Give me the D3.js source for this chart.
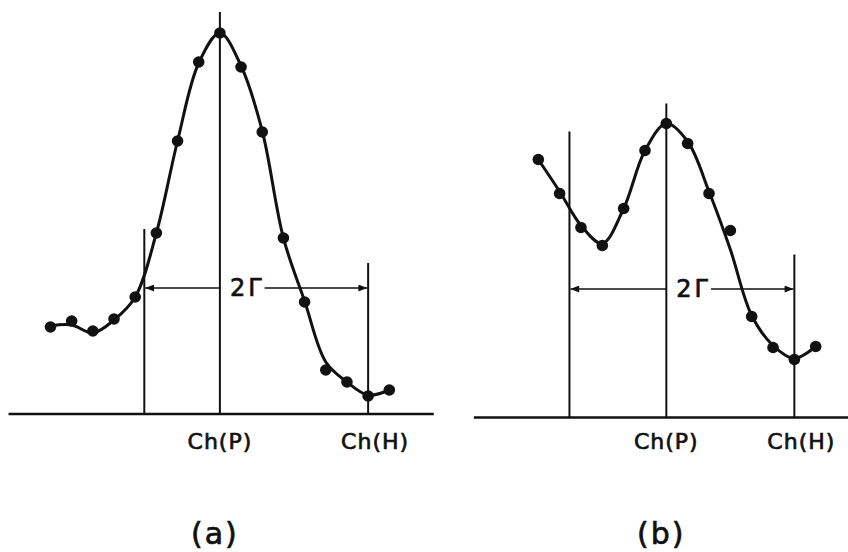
<!DOCTYPE html>
<html>
<head>
<meta charset="utf-8">
<script src="https://cdn.jsdelivr.net/npm/d3@7"></script>
<style>
  html, body { margin: 0; padding: 0; background: #fff; }
  svg { display: block; }
  text { font-family: "DejaVu Sans", sans-serif; fill: #111; stroke: #111; stroke-width: 0.7px; }
</style>
</head>
<body>
<div id="chart"></div>
<script>
// ---------------------------------------------------------------------------
// Two line-shape spectra, measured counts per channel with a smooth fit
// ---------------------------------------------------------------------------

// panel (a)
const channelsA = [1, 2, 3, 4, 5, 6, 7, 8, 9, 10, 11, 12, 13, 14, 15, 16, 17];
const countsA   = [87, 93, 83, 95, 117, 181, 273, 352, 381, 347, 282, 176, 112, 44, 32, 18, 24];
const fitA      = [88, 89, 81, 94, 117, 181, 273, 351, 381, 348, 283, 176, 113, 52, 32, 19, 24];
const markersA  = { chP: 9, chH: 16, halfLeft: 5.43, arrowLevel: 126,
                    topLeft: 185, topP: 402, topH: 151, axis: [-0.98, 19.1] };

// panel (b)
const channelsB = [1, 2, 3, 4, 5, 6, 7, 8, 9, 10, 11, 12, 13, 14];
const countsB   = [258, 224, 190, 172, 209, 267, 294, 274, 224, 187, 101, 70, 58, 71];
const fitB      = [258, 226, 192, 174, 209, 267, 294, 276, 226, 168, 102, 72, 59, 71];
const markersB  = { chP: 7, chH: 13, halfLeft: 2.46, arrowLevel: 128.5,
                    topLeft: 286, topP: 314, topH: 163, axis: [-2.02, 16] };

const width = 848, height = 552;

const svg = d3.select('#chart').append('svg')
    .attr('width', width).attr('height', height);

const defs = svg.append('defs');
defs.append('marker')
    .attr('id', 'arrow')
    .attr('viewBox', '0 0 10 8')
    .attr('refX', 10).attr('refY', 4)
    .attr('markerWidth', 11).attr('markerHeight', 7)
    .attr('markerUnits', 'userSpaceOnUse')
    .attr('orient', 'auto-start-reverse')
    .append('path')
    .attr('d', 'M0,0L10,4L0,8Z')
    .attr('fill', '#111');

function drawPanel(cfg) {
    const { channels, counts, fit, m, xRange, base, label } = cfg;

    const x = d3.scaleLinear().domain([channels[0], channels[channels.length - 1]]).range(xRange);
    const y = d3.scaleLinear().domain([0, 400]).range([base, base - 400]);

    const g = svg.append('g');

    // Baseline
    g.append('line')
        .attr('x1', x(m.axis[0])).attr('x2', x(m.axis[1]))
        .attr('y1', y(0)).attr('y2', y(0))
        .attr('stroke', '#111').attr('stroke-width', 2.4);

    // Vertical markers: half-width edge, Ch(P), Ch(H)
    [[m.halfLeft, m.topLeft], [m.chP, m.topP], [m.chH, m.topH]].forEach(([c, top]) => {
        g.append('line')
            .attr('x1', x(c)).attr('x2', x(c))
            .attr('y1', y(0)).attr('y2', y(top))
            .attr('stroke', '#111').attr('stroke-width', 2);
    });

    // 2Γ width arrow, broken for the label
    const ay = y(m.arrowLevel);
    g.append('line')
        .attr('x1', x(m.chP)).attr('x2', x(m.halfLeft) + 1)
        .attr('y1', ay).attr('y2', ay)
        .attr('stroke', '#111').attr('stroke-width', 1.5)
        .attr('marker-end', 'url(#arrow)');

    const gamma = g.append('text')
        .attr('x', x(m.chP) + 10)
        .attr('y', ay + 8)
        .style('font-size', '24px')
        .style('letter-spacing', '3px')
        .text('2Γ');
    const tw = gamma.node().getComputedTextLength();

    g.append('line')
        .attr('x1', x(m.chP) + 10 + tw).attr('x2', x(m.chH) - 1)
        .attr('y1', ay).attr('y2', ay)
        .attr('stroke', '#111').attr('stroke-width', 1.5)
        .attr('marker-end', 'url(#arrow)');

    // Fitted curve
    const line = d3.line()
        .x((d, i) => x(channels[i]))
        .y(d => y(d))
        .curve(d3.curveCatmullRom.alpha(0.5));

    g.append('path')
        .datum(fit)
        .attr('d', line)
        .attr('fill', 'none')
        .attr('stroke', '#111')
        .attr('stroke-width', 3);

    // Measured points
    g.selectAll('.pt')
        .data(counts)
        .join('circle')
        .attr('cx', (d, i) => x(channels[i]))
        .attr('cy', d => y(d))
        .attr('r', 5.8)
        .attr('fill', '#111');

    // Channel labels
    g.append('text')
        .attr('x', x(m.chP)).attr('y', 449)
        .attr('text-anchor', 'middle')
        .style('font-size', '22px')
        .style('letter-spacing', '1px')
        .text('Ch(P)');

    g.append('text')
        .attr('x', x(m.chH) + 7).attr('y', 449)
        .attr('text-anchor', 'middle')
        .style('font-size', '22px')
        .style('letter-spacing', '1px')
        .text('Ch(H)');

    // Panel label
    g.append('text')
        .attr('x', x(m.chP) - 5).attr('y', 544)
        .attr('text-anchor', 'middle')
        .style('font-size', '30px')
        .style('letter-spacing', '2px')
        .text(label);
}

drawPanel({ channels: channelsA, counts: countsA, fit: fitA, m: markersA,
            xRange: [50.5, 389.3], base: 414, label: '(a)' });
drawPanel({ channels: channelsB, counts: countsB, fit: fitB, m: markersB,
            xRange: [538.3, 815.7], base: 417.5, label: '(b)' });
</script>
</body>
</html>
